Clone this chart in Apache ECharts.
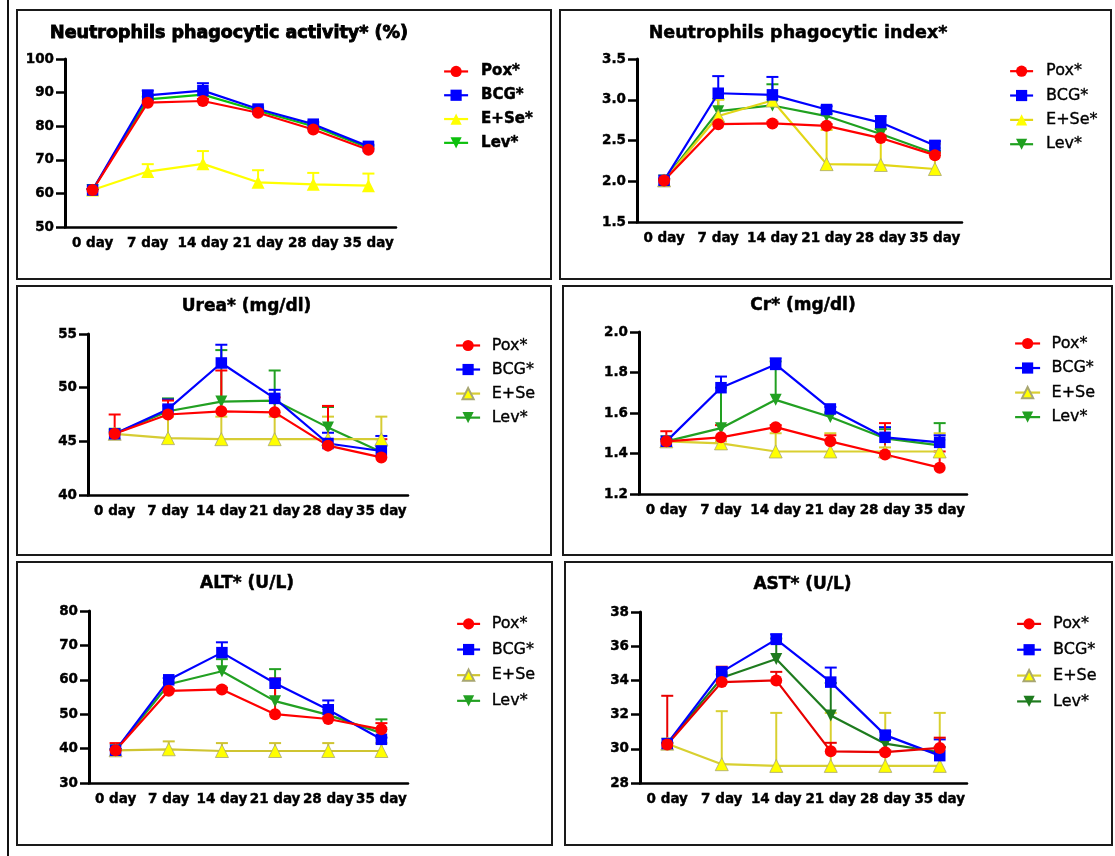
<!DOCTYPE html>
<html>
<head>
<meta charset="utf-8">
<title>Immune and biochemical parameters</title>
<script src="https://cdn.jsdelivr.net/npm/echarts@6/dist/echarts.min.js"></script>
<style>
  html, body { margin: 0; padding: 0; background: #ffffff; }
  #chart { width: 1115px; height: 856px; }
</style>
</head>
<body>
<div id="chart"></div>
<script>
// ---- sampling days ----
const days = ['0 day', '7 day', '14 day', '21 day', '28 day', '35 day'];

// ---- Neutrophils phagocytic activity* (%) ----
const activityTicks = ['50', '60', '70', '80', '90', '100'];
const activityPox   = [61.0, 87.0, 87.5, 84.0, 79.0, 73.0];
const activityPoxSD = [0.3, 0.6, 0.6, 0.4, 0.5, 0.4];
const activityBCG   = [61.0, 89.2, 90.6, 85.1, 80.6, 74.0];
const activityBCGSD = [0.3, 1.4, 2.2, 0.5, 0.6, 0.5];
const activityESe   = [61.0, 66.5, 68.8, 63.3, 62.7, 62.3];
const activityESeSD = [0.3, 2.2, 3.8, 3.6, 3.4, 3.6];
const activityLev   = [61.0, 88.0, 89.4, 84.6, 80.0, 73.6];
const activityLevSD = [0.3, 0.8, 1.2, 0.5, 0.5, 0.4];

// ---- Neutrophils phagocytic index* ----
const indexTicks = ['1.5', '2.0', '2.5', '3.0', '3.5'];
const indexPox   = [2.01, 2.70, 2.71, 2.68, 2.53, 2.32];
const indexPoxSD = [0.02, 0.02, 0.02, 0.02, 0.03, 0.03];
const indexBCG   = [2.01, 3.08, 3.06, 2.88, 2.72, 2.44];
const indexBCGSD = [0.02, 0.21, 0.22, 0.04, 0.08, 0.05];
const indexESe   = [2.01, 2.80, 2.99, 2.21, 2.20, 2.15];
const indexESeSD = [0.02, 0.20, 0.05, 0.42, 0.33, 0.31];
const indexLev   = [2.01, 2.86, 2.93, 2.80, 2.58, 2.34];
const indexLevSD = [0.02, 0.15, 0.26, 0.03, 0.06, 0.03];

// ---- Urea* (mg/dl) ----
const ureaTicks = ['40', '45', '50', '55'];
const ureaPox   = [45.7, 47.5, 47.8, 47.7, 44.6, 43.5];
const ureaPoxSD = [1.8, 1.3, 3.8, 1.4, 3.7, 1.7];
const ureaBCG   = [45.7, 48.0, 52.3, 49.0, 44.8, 44.1];
const ureaBCGSD = [0.2, 0.9, 1.7, 0.8, 1.0, 1.4];
const ureaESe   = [45.7, 45.3, 45.2, 45.2, 45.2, 45.2];
const ureaESeSD = [0.1, 2.0, 2.1, 2.1, 2.1, 2.1];
const ureaLev   = [45.7, 47.8, 48.7, 48.8, 46.3, 44.0];
const ureaLevSD = [0.4, 1.2, 4.8, 2.8, 1.9, 0.6];

// ---- Cr* (mg/dl) ----
const crTicks = ['1.2', '1.4', '1.6', '1.8', '2.0'];
const crPox   = [1.46, 1.48, 1.53, 1.46, 1.395, 1.33];
const crPoxSD = [0.05, 0.06, 0.01, 0.03, 0.155, 0.08];
const crBCG   = [1.46, 1.725, 1.84, 1.62, 1.48, 1.455];
const crBCGSD = [0.01, 0.055, 0.03, 0.01, 0.05, 0.035];
const crESe   = [1.46, 1.45, 1.41, 1.41, 1.41, 1.41];
const crESeSD = [0.01, 0.01, 0.09, 0.09, 0.02, 0.09];
const crLev   = [1.46, 1.525, 1.665, 1.58, 1.475, 1.44];
const crLevSD = [0.01, 0.20, 0.19, 0.02, 0.045, 0.11];

// ---- ALT* (U/L) ----
const altTicks = ['30', '40', '50', '60', '70', '80'];
const altPox   = [39.5, 56.8, 57.2, 50.0, 48.6, 45.6];
const altPoxSD = [2.1, 0.5, 0.5, 10.4, 0.5, 1.8];
const altBCG   = [39.5, 60.0, 67.9, 59.0, 51.3, 42.7];
const altBCGSD = [0.3, 0.5, 3.0, 1.0, 2.7, 0.5];
const altESe   = [39.5, 39.8, 39.3, 39.3, 39.3, 39.3];
const altESeSD = [0.3, 2.3, 2.3, 2.3, 2.3, 2.3];
const altLev   = [39.5, 58.7, 62.5, 53.8, 49.8, 44.5];
const altLevSD = [0.3, 0.5, 3.5, 9.3, 0.5, 4.0];

// ---- AST* (U/L) ----
const astTicks = ['28', '30', '32', '34', '36', '38'];
const astPox   = [30.25, 33.9, 34.0, 29.85, 29.8, 30.05];
const astPoxSD = [2.85, 0.9, 0.5, 0.5, 0.1, 0.6];
const astBCG   = [30.3, 34.5, 36.4, 33.9, 30.8, 29.6];
const astBCGSD = [0.05, 0.2, 0.3, 0.85, 0.2, 0.95];
const astESe   = [30.3, 29.1, 29.0, 29.0, 29.0, 29.0];
const astESeSD = [0.05, 3.1, 3.1, 3.1, 3.1, 3.1];
const astLev   = [30.3, 34.15, 35.25, 31.95, 30.3, 29.8];
const astLevSD = [0.05, 0.2, 1.2, 1.9, 0.3, 0.3];

// ---- group names ----
const groupsStarred = ['Pox*', 'BCG*', 'E+Se*', 'Lev*'];
const groupsPlain   = ['Pox*', 'BCG*', 'E+Se', 'Lev*'];

// ---- styling ----
const FONT = '"DejaVu Sans", "Liberation Sans", Arial, sans-serif';
const RED = '#ff0000', BLUE = '#0000ff', YELLOW = '#ffff00';
const DOWN_TRIANGLE = 'path://M0,0L10,0L5,9Z';
const symbols = ['circle', 'rect', 'triangle', DOWN_TRIANGLE];
const symbolSizes = [12, 11.5, 13, 12];

// panel layout: frame, plot area, title and legend placement
const panels = [
  {
    title: 'Neutrophils phagocytic activity* (%)', ticks: activityTicks, names: groupsStarred,
    mean: [activityPox, activityBCG, activityESe, activityLev],
    sd: [activityPoxSD, activityBCGSD, activityESeSD, activityLevSD],
    lineColors: [RED, BLUE, YELLOW, '#0cc00c'], markColors: [RED, BLUE, YELLOW, '#0cc00c'],
    box: [17, 10, 551, 279], grid: { left: 65, top: 59, width: 331, height: 168 },
    titlePos: [229, 33], titleSize: 17.5, titleStroke: 0.9,
    legend: { left: 443, top: 63.7, gap: 8.3, width: 24, pad: 8, bold: true, size: 15 }
  },
  {
    title: 'Neutrophils phagocytic index*', ticks: indexTicks, names: groupsStarred,
    mean: [indexPox, indexBCG, indexESe, indexLev],
    sd: [indexPoxSD, indexBCGSD, indexESeSD, indexLevSD],
    lineColors: [RED, BLUE, '#e2d616', '#1fa01f'], markColors: [RED, BLUE, YELLOW, '#1fa01f'],
    box: [560, 10, 1111, 279], grid: { left: 637, top: 59, width: 325, height: 163 },
    titlePos: [798, 33], titleSize: 17.5, titleStroke: 0.5,
    legend: { left: 1009, top: 63, gap: 8, width: 23, pad: 8, bold: false, size: 16 }
  },
  {
    title: 'Urea* (mg/dl)', ticks: ureaTicks, names: groupsPlain,
    mean: [ureaPox, ureaBCG, ureaESe, ureaLev],
    sd: [ureaPoxSD, ureaBCGSD, ureaESeSD, ureaLevSD],
    lineColors: [RED, BLUE, '#d6cc34', '#22a022'], markColors: [RED, BLUE, YELLOW, '#22a022'],
    box: [17, 286, 551, 555], grid: { left: 88, top: 334, width: 320, height: 161 },
    titlePos: [246.5, 307], titleSize: 17, titleStroke: 0.5,
    legend: { left: 455, top: 337.3, gap: 7.7, width: 24, pad: 6.6, bold: false, size: 16 }
  },
  {
    title: 'Cr* (mg/dl)', ticks: crTicks, names: groupsPlain,
    mean: [crPox, crBCG, crESe, crLev],
    sd: [crPoxSD, crBCGSD, crESeSD, crLevSD],
    lineColors: [RED, BLUE, '#d9cf30', '#22a022'], markColors: [RED, BLUE, YELLOW, '#22a022'],
    box: [563, 286, 1112, 555], grid: { left: 639, top: 332, width: 328, height: 162 },
    titlePos: [803, 306], titleSize: 17, titleStroke: 0.5,
    legend: { left: 1014, top: 335.3, gap: 8.2, width: 25, pad: 6.5, bold: false, size: 16 }
  },
  {
    title: 'ALT* (U/L)', ticks: altTicks, names: groupsPlain,
    mean: [altPox, altBCG, altESe, altLev],
    sd: [altPoxSD, altBCGSD, altESeSD, altLevSD],
    lineColors: [RED, BLUE, '#cfc431', '#22a022'], markColors: [RED, BLUE, YELLOW, '#22a022'],
    box: [17, 562, 552, 845], grid: { left: 89, top: 611, width: 319, height: 172 },
    titlePos: [247, 584], titleSize: 17, titleStroke: 0.5,
    legend: { left: 456, top: 615.7, gap: 9.3, width: 23, pad: 6.6, bold: false, size: 16 }
  },
  {
    title: 'AST* (U/L)', ticks: astTicks, names: groupsPlain,
    mean: [astPox, astBCG, astESe, astLev],
    sd: [astPoxSD, astBCGSD, astESeSD, astLevSD],
    lineColors: ['#e80000', BLUE, '#d8d030', '#1e7b1e'], markColors: [RED, BLUE, YELLOW, '#1e7b1e'],
    box: [565, 562, 1112, 845], grid: { left: 640, top: 612, width: 327, height: 171 },
    titlePos: [802.5, 584.3], titleSize: 17, titleStroke: 0.5,
    legend: { left: 1016, top: 615.7, gap: 9.5, width: 24, pad: 7, bold: false, size: 16 }
  }
];

// vertical error bar (mean up to mean + SD) with a short cap
function errorBarRenderer(color) {
  return function (params, api) {
    const x = api.value(0);
    const base = api.coord([x, api.value(1)]);
    const top = api.coord([x, api.value(2)]);
    const half = 6;
    const style = { stroke: color, lineWidth: 2, fill: null };
    return {
      type: 'group',
      children: [
        { type: 'line', shape: { x1: base[0], y1: base[1], x2: top[0], y2: top[1] }, style: style },
        { type: 'line', shape: { x1: top[0] - half, y1: top[1], x2: top[0] + half, y2: top[1] }, style: style }
      ]
    };
  };
}

const grids = [], xAxes = [], yAxes = [], series = [], legends = [], graphics = [];

// outer frame line on the left
graphics.push({
  type: 'line', shape: { x1: 8, y1: 0, x2: 8, y2: 856 },
  style: { stroke: '#111', lineWidth: 2 }, z: 10
});

// heavy tick-label text
const tickText = {
  color: '#000', fontFamily: FONT, fontWeight: 'bold', fontSize: 13.5,
  textBorderColor: '#000', textBorderWidth: 0.4
};

panels.forEach(function (p, k) {
  const tickValues = p.ticks.map(parseFloat);
  const yMin = tickValues[0];
  const yMax = tickValues[tickValues.length - 1];
  const step = Math.round((tickValues[1] - tickValues[0]) * 1000) / 1000;

  // panel frame
  graphics.push({
    type: 'rect',
    shape: { x: p.box[0], y: p.box[1], width: p.box[2] - p.box[0], height: p.box[3] - p.box[1] },
    style: { fill: null, stroke: '#1a1a1a', lineWidth: 2 }, z: 10
  });
  // panel title
  graphics.push({
    type: 'text', x: p.titlePos[0], y: p.titlePos[1], z: 10,
    style: {
      text: p.title, fill: '#000', stroke: '#000', lineWidth: p.titleStroke,
      font: 'bold ' + p.titleSize + 'px ' + FONT,
      textAlign: 'center', textVerticalAlign: 'middle', align: 'center', verticalAlign: 'middle'
    }
  });

  grids.push(Object.assign({ containLabel: false }, p.grid));

  xAxes.push({
    type: 'category', gridIndex: k, data: days, boundaryGap: true,
    axisLine: { onZero: false, lineStyle: { color: '#000', width: 2.5 } },
    axisTick: { alignWithLabel: true, length: 6, lineStyle: { color: '#000', width: 2.5 } },
    axisLabel: Object.assign({ interval: 0, margin: 9 }, tickText),
    splitLine: { show: false }
  });

  yAxes.push({
    type: 'value', gridIndex: k, min: yMin, max: yMax, interval: step,
    axisLine: { show: true, lineStyle: { color: '#000', width: 3 } },
    axisTick: { show: true, length: 9, lineStyle: { color: '#000', width: 2.5 } },
    axisLabel: Object.assign({
      margin: 11,
      formatter: function (v) {
        const hit = p.ticks.find(function (t) { return Math.abs(parseFloat(t) - v) < 1e-6; });
        return hit === undefined ? '' : hit;
      }
    }, tickText),
    splitLine: { show: false }
  });

  // drawing order: Lev, E+Se, BCG, Pox (Pox on top)
  const order = [3, 2, 1, 0];
  order.forEach(function (g) {
    series.push({
      type: 'custom',
      name: 'sd-' + k + '-' + g,
      xAxisIndex: k, yAxisIndex: k,
      renderItem: errorBarRenderer(p.lineColors[g]),
      data: p.mean[g].map(function (m, i) { return [i, m, m + p.sd[g][i]]; }),
      encode: { x: 0, y: [1, 2] },
      z: 1, silent: true
    });
  });
  order.forEach(function (g) {
    const plainESe = (g === 2 && k > 0);
    series.push({
      type: 'line',
      name: p.names[g],
      xAxisIndex: k, yAxisIndex: k,
      data: p.mean[g],
      symbol: symbols[g],
      symbolSize: symbolSizes[g],
      showAllSymbol: true,
      lineStyle: { color: p.lineColors[g], width: 2.2 },
      itemStyle: plainESe
        ? { color: p.markColors[g], borderColor: '#a8a672', borderWidth: 0.8 }
        : { color: p.markColors[g] },
      emphasis: { disabled: true },
      z: 3
    });
  });

  const L = p.legend;
  legends.push({
    orient: 'vertical',
    left: L.left, top: L.top,
    padding: 0,
    itemGap: L.gap,
    itemWidth: L.width, itemHeight: 14,
    selectedMode: false,
    textStyle: {
      color: '#000', fontFamily: FONT, fontSize: L.size,
      fontWeight: L.bold ? 'bold' : 'normal',
      textBorderColor: '#000', textBorderWidth: L.bold ? 0.5 : 0.35,
      padding: [0, 0, 0, L.pad]
    },
    data: p.names.map(function (n, g) {
      return {
        name: n,
        itemStyle: { color: p.markColors[g] },
        lineStyle: { color: p.lineColors[g], width: 2.2 }
      };
    })
  });
});

const chart = echarts.init(document.getElementById('chart'), null, { renderer: 'canvas' });
chart.setOption({
  backgroundColor: '#ffffff',
  animation: false,
  grid: grids,
  xAxis: xAxes,
  yAxis: yAxes,
  legend: legends,
  series: series,
  graphic: { elements: graphics }
});
</script>
</body>
</html>
